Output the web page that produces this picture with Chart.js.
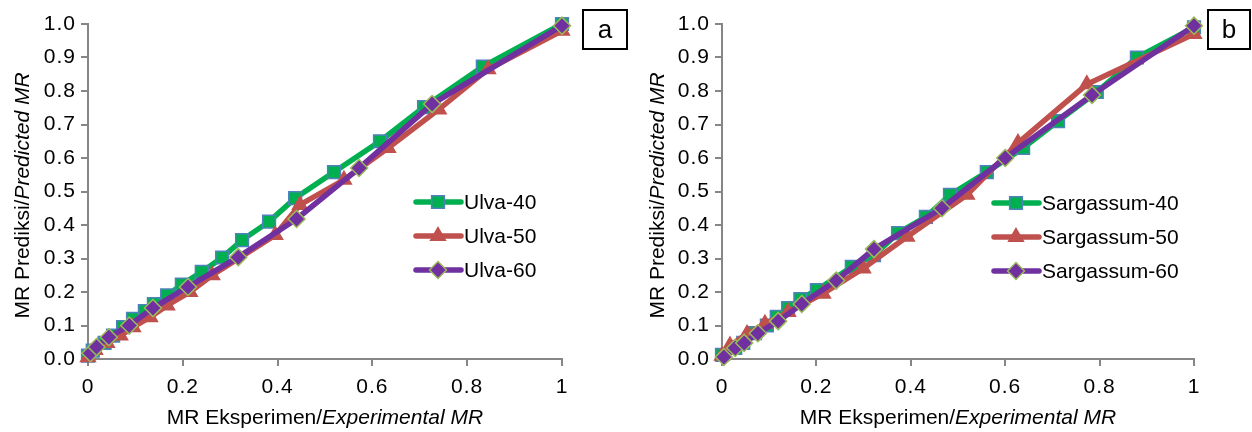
<!DOCTYPE html>
<html>
<head>
<meta charset="utf-8">
<script src="https://cdn.jsdelivr.net/npm/chart.js@4.4.1/dist/chart.umd.min.js"></script>
<style>
  body { margin: 0; background: #fff; }
  #wrap { position: relative; width: 1252px; height: 432px; }
  #boxA { position: absolute; left: 0; top: 0; }
  #boxB { position: absolute; left: 630px; top: 0; }
</style>
</head>
<body>
<div id="wrap">
  <div id="boxA"><canvas id="chartA" width="630" height="432"></canvas></div>
  <div id="boxB"><canvas id="chartB" width="622" height="432"></canvas></div>
</div>
<script>
// ---- data ----
const ulvaNames = ['Ulva-40', 'Ulva-50', 'Ulva-60'];
const ulva40X = [0, 0.01, 0.035, 0.053, 0.074, 0.095, 0.12, 0.139, 0.167, 0.198, 0.24, 0.283, 0.325, 0.382, 0.437, 0.519, 0.616, 0.709, 0.833, 1.0];
const ulva40Y = [0.01, 0.025, 0.048, 0.07, 0.095, 0.12, 0.143, 0.164, 0.19, 0.222, 0.26, 0.303, 0.355, 0.41, 0.48, 0.558, 0.65, 0.752, 0.873, 1.0];
const ulva50X = [0, 0.015, 0.04, 0.068, 0.095, 0.131, 0.167, 0.215, 0.262, 0.395, 0.447, 0.54, 0.633, 0.74, 0.844, 1.0];
const ulva50Y = [0.005, 0.027, 0.048, 0.07, 0.095, 0.125, 0.16, 0.2, 0.25, 0.37, 0.46, 0.535, 0.63, 0.745, 0.865, 0.98];
const ulva60X = [0.005, 0.018, 0.044, 0.087, 0.137, 0.211, 0.317, 0.44, 0.572, 0.726, 1.0];
const ulva60Y = [0.017, 0.036, 0.065, 0.1, 0.152, 0.215, 0.304, 0.418, 0.57, 0.761, 0.995];

const sargNames = ['Sargassum-40', 'Sargassum-50', 'Sargassum-60'];
const sarg40X = [0, 0.028, 0.045, 0.07, 0.095, 0.116, 0.14, 0.166, 0.201, 0.275, 0.322, 0.373, 0.432, 0.483, 0.561, 0.638, 0.712, 0.794, 0.879, 1.0];
const sarg40Y = [0.012, 0.033, 0.048, 0.077, 0.1, 0.126, 0.152, 0.179, 0.206, 0.275, 0.31, 0.376, 0.424, 0.49, 0.558, 0.63, 0.71, 0.797, 0.9, 0.99];
const sarg50X = [0, 0.017, 0.053, 0.091, 0.14, 0.214, 0.299, 0.392, 0.519, 0.627, 0.773, 1.0];
const sarg50Y = [0.01, 0.04, 0.075, 0.105, 0.14, 0.195, 0.27, 0.365, 0.49, 0.645, 0.82, 0.97];
const sarg60X = [0.004, 0.028, 0.047, 0.076, 0.119, 0.169, 0.242, 0.322, 0.466, 0.6, 0.784, 1.0];
const sarg60Y = [0.006, 0.033, 0.048, 0.077, 0.113, 0.164, 0.234, 0.328, 0.45, 0.6, 0.788, 0.995];

const xTickLabels = ['0', '0.2', '0.4', '0.6', '0.8', '1'];
const yTickLabels = ['0.0', '0.1', '0.2', '0.3', '0.4', '0.5', '0.6', '0.7', '0.8', '0.9', '1.0'];
const xTitle = ['MR Eksperimen/', 'Experimental MR'];
const yTitle = ['MR Prediksi/', 'Predicted MR'];

// ---- styles ----
const FONT = '"Liberation Sans", Arial, sans-serif';
const seriesStyle = [
  { color: '#00B050', border: '#4F81BD', shape: 'rect', radius: 9 },
  { color: '#C0504D', border: '#C0504D', shape: 'triangle', radius: 8.5 },
  { color: '#7030A0', border: '#9BBB59', shape: 'rectRot', radius: 8.5 }
];

function makeDatasets(names, xsList, ysList) {
  return names.map((name, s) => {
    const st = seriesStyle[s];
    return {
      label: name,
      data: xsList[s].map((x, i) => ({ x: x, y: ysList[s][i] })),
      showLine: true,
      borderColor: st.color,
      backgroundColor: st.color,
      borderWidth: 5.5,
      tension: 0,
      pointStyle: st.shape,
      pointRadius: st.radius,
      pointBackgroundColor: st.color,
      pointBorderColor: st.border,
      pointBorderWidth: 1.5,
      clip: false,
      order: 3 - s
    };
  });
}

// draws the axis titles (mixed italic), the legend and the letter box
function decorPlugin(opt) {
  return {
    id: 'decor',
    afterDatasetsDraw(chart) {
      // tick labels (drawn next) are a little wide in the original
      chart.ctx.letterSpacing = '1px';
    },
    afterDraw(chart) {
      const ctx = chart.ctx;
      const area = chart.chartArea;
      ctx.save();
      ctx.letterSpacing = '0px';
      ctx.fillStyle = '#000';
      ctx.textBaseline = 'middle';

      // x title
      const fN = '21px ' + FONT, fI = 'italic 21px ' + FONT;
      ctx.font = fN; const wx1 = ctx.measureText(xTitle[0]).width;
      ctx.font = fI; const wx2 = ctx.measureText(xTitle[1]).width;
      let sx = (area.left + area.right) / 2 - (wx1 + wx2) / 2;
      ctx.textAlign = 'left';
      ctx.font = fN; ctx.fillText(xTitle[0], sx, opt.xTitleY);
      ctx.font = fI; ctx.fillText(xTitle[1], sx + wx1, opt.xTitleY);

      // y title
      ctx.font = fN; const wy1 = ctx.measureText(yTitle[0]).width;
      ctx.font = fI; const wy2 = ctx.measureText(yTitle[1]).width;
      ctx.save();
      ctx.translate(opt.yTitleX, (area.top + area.bottom) / 2 + 4);
      ctx.rotate(-Math.PI / 2);
      const sy = -(wy1 + wy2) / 2;
      ctx.font = fN; ctx.fillText(yTitle[0], sy, 0);
      ctx.font = fI; ctx.fillText(yTitle[1], sy + wy1, 0);
      ctx.restore();

      // legend
      opt.names.forEach((name, s) => {
        const st = seriesStyle[s];
        const y = opt.legY + s * 34;
        ctx.strokeStyle = st.color;
        ctx.lineWidth = 5.5;
        ctx.lineCap = 'round';
        ctx.beginPath();
        ctx.moveTo(opt.legX, y);
        ctx.lineTo(opt.legX + 45, y);
        ctx.stroke();
        ctx.fillStyle = st.color;
        ctx.strokeStyle = st.border;
        ctx.lineWidth = 1.5;
        Chart.helpers.drawPoint(ctx, { pointStyle: st.shape, radius: st.radius, rotation: 0, borderWidth: 1.5 }, opt.legX + 22, y);
        ctx.fillStyle = '#000';
        ctx.font = fN;
        ctx.fillText(name, opt.legX + 48, y + 1);
      });

      // letter box
      ctx.strokeStyle = '#000';
      ctx.lineWidth = 2;
      ctx.strokeRect(opt.box[0], opt.box[1], opt.box[2], opt.box[3]);
      ctx.font = '26px ' + FONT;
      ctx.textAlign = 'center';
      ctx.fillText(opt.letter, opt.box[0] + opt.box[2] / 2, opt.box[1] + opt.box[3] / 2 + 1);
      ctx.restore();
    }
  };
}

function makeChart(canvasId, datasets, opt) {
  return new Chart(document.getElementById(canvasId), {
    type: 'scatter',
    data: { datasets: datasets },
    options: {
      responsive: false,
      animation: false,
      devicePixelRatio: 1,
      events: [],
      layout: { padding: { left: 0, top: 24, right: opt.padRight, bottom: 0 } },
      plugins: { legend: { display: false }, tooltip: { enabled: false } },
      scales: {
        x: {
          type: 'linear', min: 0, max: 1,
          afterFit: (scale) => { scale.height = 73; },
          grid: { drawOnChartArea: false, color: '#868686', lineWidth: 2, tickLength: 7 },
          border: { color: '#868686', width: 2 },
          ticks: {
            stepSize: 0.2, autoSkip: false, maxRotation: 0, padding: 9, z: 1,
            color: '#000', font: { family: FONT, size: 21 },
            callback: (v, i) => xTickLabels[i]
          }
        },
        y: {
          type: 'linear', min: 0, max: 1,
          afterFit: (scale) => { scale.width = opt.yWidth; },
          grid: { drawOnChartArea: false, color: '#868686', lineWidth: 2, tickLength: 7 },
          border: { color: '#868686', width: 2 },
          ticks: {
            stepSize: 0.1, autoSkip: false, padding: 5, z: 1,
            color: '#000', font: { family: FONT, size: 21 },
            callback: (v, i) => yTickLabels[i]
          }
        }
      }
    },
    plugins: [decorPlugin(opt)]
  });
}

makeChart('chartA', makeDatasets(ulvaNames, [ulva40X, ulva50X, ulva60X], [ulva40Y, ulva50Y, ulva60Y]), {
  padRight: 68, yWidth: 88, xTitleY: 418, yTitleX: 23,
  names: ulvaNames, legX: 416, legY: 202,
  box: [583, 10, 44, 39], letter: 'a'
});

makeChart('chartB', makeDatasets(sargNames, [sarg40X, sarg50X, sarg60X], [sarg40Y, sarg50Y, sarg60Y]), {
  padRight: 58, yWidth: 92, xTitleY: 418, yTitleX: 28,
  names: sargNames, legX: 364, legY: 203,
  box: [578, 10, 42, 39], letter: 'b'
});
</script>
</body>
</html>
